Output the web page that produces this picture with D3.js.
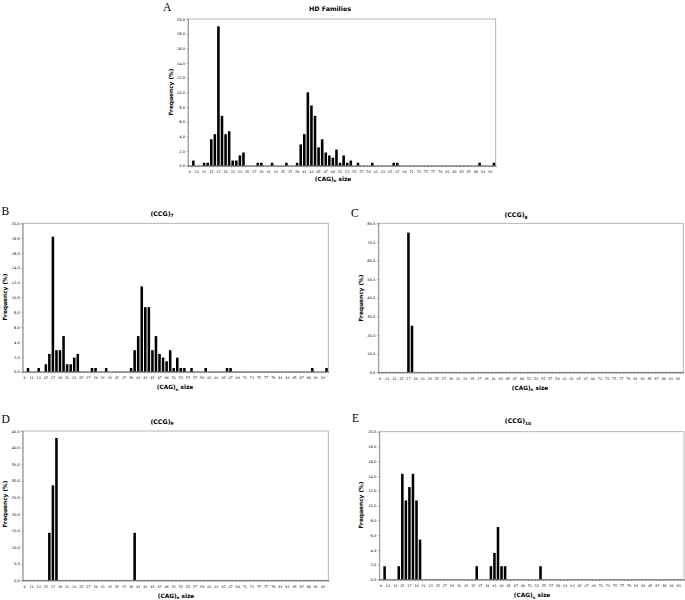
<!DOCTYPE html>
<html>
<head>
<meta charset="utf-8">
<script src="https://cdn.jsdelivr.net/npm/d3@7"></script>
<style>
  html, body { margin: 0; padding: 0; background: #fff; }
  svg { display: block; }
  text { font-family: "DejaVu Sans", Verdana, sans-serif; fill: #000; }
</style>
</head>
<body>
<svg id="chart" width="685" height="600"></svg>
<script>
// ---- Data ----
const categories = [9,10,11,12,13,14,15,16,17,18,19,20,21,22,23,24,25,26,27,28,29,30,31,32,33,34,35,36,37,38,39,40,41,42,43,44,45,46,47,48,49,50,51,52,53,54,55,56,57,58,59,60,61,62,63,64,65,66,67,68,69,70,71,72,73,74,75,76,77,78,79,80,81,82,83,84,85,86,87,88,89,90,91,92,93,94];

// Panel A: HD Families
const hdSizes = [10,13,14,15,16,17,18,19,20,21,22,23,24,28,29,32,36,39,40,41,42,43,44,45,46,47,48,49,50,51,52,53,54,56,60,66,67,90,94];
const hdFreq  = [0.7,0.4,0.4,3.6,4.3,19.0,6.8,4.3,4.7,0.7,0.7,1.4,1.8,0.4,0.4,0.4,0.4,0.4,2.9,4.3,10.0,8.2,6.8,2.5,3.6,1.8,1.4,1.1,2.2,0.4,1.4,0.4,0.7,0.4,0.4,0.4,0.4,0.4,0.4];

// Panel B: (CCG)7
const ccg7Sizes = [10,13,15,16,17,18,19,20,21,22,23,24,28,29,32,39,40,41,42,43,44,45,46,47,48,49,50,51,52,53,54,56,60,66,67,90,94];
const ccg7Freq  = [0.5,0.5,1.0,2.4,18.2,2.9,2.9,4.8,1.0,1.0,1.9,2.4,0.5,0.5,0.5,0.5,2.9,4.8,11.5,8.7,8.7,2.9,4.8,2.4,1.9,1.4,2.9,0.5,1.9,0.5,0.5,0.5,0.5,0.5,0.5,0.5,0.5];

// Panel C: (CCG)8
const ccg8Sizes = [17,18];
const ccg8Freq  = [75.0,25.0];

// Panel D: (CCG)9
const ccg9Sizes = [16,17,18,40];
const ccg9Freq  = [14.3,28.6,42.9,14.3];

// Panel E: (CCG)10
const ccg10Sizes = [10,14,15,16,17,18,19,20,36,40,41,42,43,44,54];
const ccg10Freq  = [1.8,1.8,14.3,10.7,12.5,14.3,10.7,5.4,1.8,1.8,3.6,7.1,1.8,1.8,1.8];

// Y tick labels per panel
const ticksA = [0,2,4,6,8,10,12,14,16,18,20];
const ticksB = [0,2,4,6,8,10,12,14,16,18,20];
const ticksC = [0,10,20,30,40,50,60,70,80];
const ticksD = [0,5,10,15,20,25,30,35,40,45];
const ticksE = [0,2,4,6,8,10,12,14,16,18,20];

const panelLetters = ["A","B","C","D","E"];
const panelTitles = ["HD Families", ["(CCG)","7"], ["(CCG)","8"], ["(CCG)","9"], ["(CCG)","10"]];
const xTitle = ["(CAG)", "n", " size"];
const yTitle = "Frequency (%)";

// ---- Layout ----
const panels = [
  { sizes: hdSizes,  freq: hdFreq,  ticks: ticksA, x0: 188,   x1: 495.7, y0: 19,    y1: 165.7,
    letter: [163, 10.5], title: [330, 11], xt: [333, 180.5], yt: [171, 92] },
  { sizes: ccg7Sizes, freq: ccg7Freq, ticks: ticksB, x0: 22.7, x1: 328.3, y0: 223.3, y1: 371.7,
    letter: [1.5, 214.5], title: [162, 215.5], xt: [175, 389], yt: [5, 297] },
  { sizes: ccg8Sizes, freq: ccg8Freq, ticks: ticksC, x0: 378.3, x1: 683.3, y0: 223.3, y1: 372.3,
    letter: [351, 216.5], title: [516, 217], xt: [530, 389.5], yt: [360.5, 298] },
  { sizes: ccg9Sizes, freq: ccg9Freq, ticks: ticksD, x0: 22.7, x1: 328.3, y0: 431,   y1: 580.3,
    letter: [1.5, 422.5], title: [162, 423.5], xt: [176, 597.5], yt: [5, 504] },
  { sizes: ccg10Sizes, freq: ccg10Freq, ticks: ticksE, x0: 379.3, x1: 684, y0: 431.7, y1: 579.5,
    letter: [352, 421.5], title: [518, 423], xt: [532, 597], yt: [360.5, 505] }
];

const svg = d3.select("#chart");
const fmt = v => d3.format(".1f")(v).replace(".", ",");

panels.forEach((p, i) => {
  const g = svg.append("g");
  const x = d3.scaleBand().domain(categories).range([p.x0, p.x1]).paddingInner(0.28).paddingOuter(0.14);
  const y = d3.scaleLinear().domain([0, d3.max(p.ticks)]).range([p.y1, p.y0]);

  // plot frame
  g.append("rect")
    .attr("x", p.x0).attr("y", p.y0)
    .attr("width", p.x1 - p.x0).attr("height", p.y1 - p.y0)
    .attr("fill", "none").attr("stroke", "#a6a6a6").attr("stroke-width", 0.8);

  // bars
  const data = p.sizes.map((s, k) => ({ s, v: p.freq[k] }));
  g.selectAll("rect.bar").data(data).enter().append("rect")
    .attr("class", "bar")
    .attr("x", d => x(d.s))
    .attr("width", x.bandwidth())
    .attr("y", d => y(d.v))
    .attr("height", d => y(0) - y(d.v))
    .attr("fill", "#000");

  // y axis
  const ya = g.append("g").attr("transform", `translate(${p.x0},0)`)
    .call(d3.axisLeft(y).tickValues(p.ticks).tickFormat(fmt).tickSize(1.5).tickPadding(1.5));
  ya.select(".domain").attr("stroke", "#8c8c8c").attr("stroke-width", 0.8);
  ya.selectAll(".tick line").attr("stroke", "#8c8c8c").attr("stroke-width", 0.6);
  ya.selectAll(".tick text").style("font-size", "3.6px").style("font-family", "'DejaVu Sans', sans-serif").attr("fill", "#222");

  // x axis
  const xs = d3.scaleLinear().domain([0, categories.length]).range([p.x0, p.x1]);
  const xa = g.append("g").attr("transform", `translate(0,${p.y1})`)
    .call(d3.axisBottom(x).tickValues(categories.filter(c => c % 2 === 1)).tickSize(0).tickPadding(5.3));
  xa.select(".domain").attr("stroke", "#555").attr("stroke-width", 0.8);
  xa.selectAll(".tick text").style("font-size", "3.3px").style("font-family", "'DejaVu Sans', sans-serif").attr("fill", "#222");
  // category boundary tick marks
  g.append("g").attr("transform", `translate(0,${p.y1})`)
    .call(d3.axisBottom(xs).tickValues(d3.range(categories.length + 1)).tickSize(1.5).tickFormat(""))
    .call(a => a.select(".domain").remove())
    .selectAll("line").attr("stroke", "#555").attr("stroke-width", 0.5);

  // panel letter
  svg.append("text").attr("x", p.letter[0]).attr("y", p.letter[1])
    .style("font-family", "'Liberation Serif', 'Times New Roman', serif").style("font-size", "11.5px")
    .text(panelLetters[i]);

  // title
  const t = svg.append("text").attr("x", p.title[0]).attr("y", p.title[1])
    .attr("text-anchor", "middle").style("font-size", "6.3px").style("font-weight", "bold");
  if (typeof panelTitles[i] === "string") {
    t.text(panelTitles[i]);
  } else {
    t.append("tspan").text(panelTitles[i][0]);
    t.append("tspan").attr("dy", 1.5).style("font-size", "4.4px").text(panelTitles[i][1]);
  }

  // x title
  const xt = svg.append("text").attr("x", p.xt[0]).attr("y", p.xt[1])
    .attr("text-anchor", "middle").style("font-size", "5.8px").style("font-weight", "bold");
  xt.append("tspan").text(xTitle[0]);
  xt.append("tspan").attr("dy", 1.5).style("font-size", "4px").text(xTitle[1]);
  xt.append("tspan").attr("dy", -1.5).text(xTitle[2]);

  // y title
  svg.append("text")
    .attr("transform", `translate(${p.yt[0]},${p.yt[1]}) rotate(-90)`)
    .attr("text-anchor", "middle").attr("dominant-baseline", "central")
    .style("font-size", "5.8px").style("font-weight", "bold")
    .text(yTitle);
});
</script>
</body>
</html>
